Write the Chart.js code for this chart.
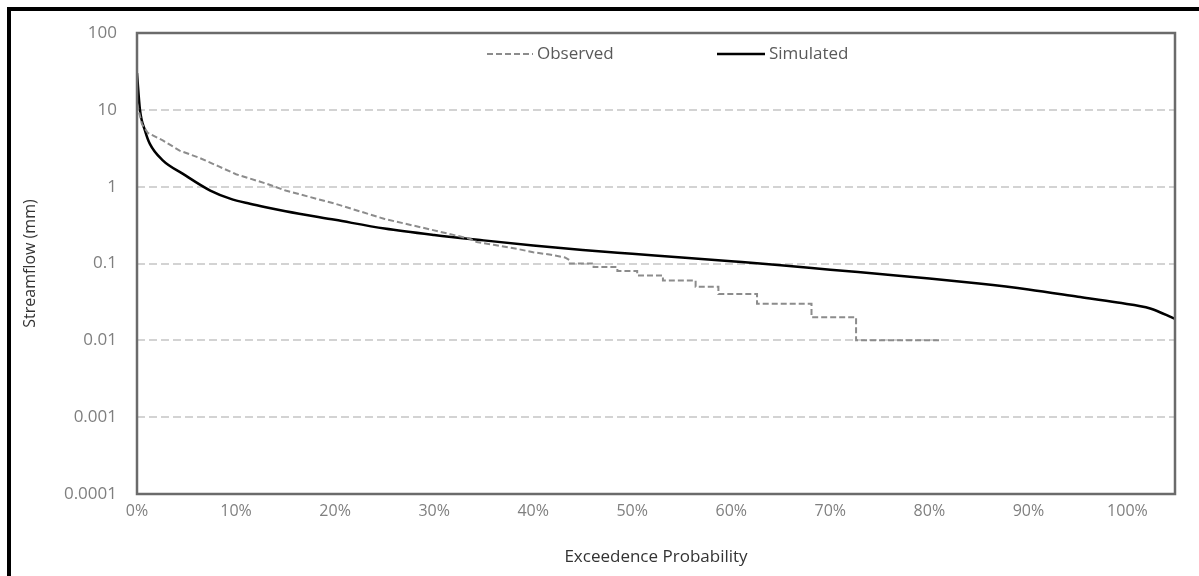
<!DOCTYPE html>
<html>
<head>
<meta charset="utf-8">
<script src="https://cdn.jsdelivr.net/npm/chart.js@4/dist/chart.umd.min.js"></script>
<style>
  body { margin: 0; background: #fff; }
  #wrap { position: relative; width: 1199px; height: 576px; overflow: hidden; }
  #frame { position: absolute; left: 7px; top: 7px; width: 1220px; height: 620px;
           border: 4px solid #000; pointer-events: none; }
</style>
</head>
<body>
<div id="wrap">
  <canvas id="myChart" width="1199" height="576"></canvas>
  <div id="frame"></div>
</div>
<script>
'use strict';

// exceedence probability (%) and streamflow (mm)
var simulatedX = [0, 0.3, 0.8, 1.3, 2.6, 4.6, 7.4, 9.4, 11.4, 13, 15, 20, 25, 30, 35, 40, 45, 50, 55, 60, 65, 70, 75, 80, 85, 90, 95, 99, 102.3, 104.8];
var simulatedY = [30, 10, 5.4, 3.6, 2.2, 1.48, 0.89, 0.70, 0.60, 0.54, 0.48, 0.37, 0.285, 0.235, 0.2, 0.172, 0.15, 0.134, 0.12, 0.107, 0.095, 0.083, 0.073, 0.064, 0.055, 0.046, 0.037, 0.031, 0.026, 0.019];

var observedX = [0, 0.5, 1.1, 2.6, 4.3, 6.2, 8.2, 10, 13.1, 15, 20, 25, 30, 33.6, 34.3, 36, 38.4, 40, 41.8, 43.2, 43.7, 43.7, 46.1, 46.1, 48.5, 48.5, 50.5, 50.5, 53.1, 53.1, 56.4, 56.4, 58.7, 58.7, 62.6, 62.6, 68.1, 68.1, 72.6, 72.6, 81.1];
var observedY = [12, 6.5, 5.0, 4.0, 2.95, 2.4, 1.85, 1.45, 1.09, 0.89, 0.6, 0.38, 0.27, 0.21, 0.19, 0.175, 0.155, 0.14, 0.13, 0.12, 0.11, 0.10, 0.10, 0.09, 0.09, 0.08, 0.08, 0.07, 0.07, 0.06, 0.06, 0.05, 0.05, 0.04, 0.04, 0.03, 0.03, 0.02, 0.02, 0.01, 0.01];

var yTicks = [0.0001, 0.001, 0.01, 0.1, 1, 10, 100];
var yTickLabels = ['0.0001', '0.001', '0.01', '0.1', '1', '10', '100'];
var xMax = 104.8;

function toPoints(xs, ys) {
    return xs.map(function (x, i) { return { x: x, y: ys[i] }; });
}

var plotBox = {
    id: 'plotBox',
    afterDatasetsDraw: function (chart) {
        var a = chart.chartArea, ctx = chart.ctx;
        ctx.save();
        ctx.strokeStyle = '#6b6b6b';
        ctx.lineWidth = 2.5;
        ctx.strokeRect(a.left, a.top, a.right - a.left, a.bottom - a.top);
        ctx.restore();
    }
};

var innerLegend = {
    id: 'innerLegend',
    afterDraw: function (chart) {
        var a = chart.chartArea, ctx = chart.ctx;
        var y = a.top + 21;
        var items = [
            { x: a.left + 350, len: 46, ds: chart.data.datasets[0] },
            { x: a.left + 580, len: 48, ds: chart.data.datasets[1] }
        ];
        ctx.save();
        ctx.font = '17px "Open Sans"';
        ctx.textBaseline = 'middle';
        items.forEach(function (it) {
            ctx.strokeStyle = it.ds.borderColor;
            ctx.lineWidth = it.ds.borderWidth;
            ctx.setLineDash(it.ds.borderDash || []);
            ctx.beginPath();
            ctx.moveTo(it.x, y);
            ctx.lineTo(it.x + it.len, y);
            ctx.stroke();
            ctx.setLineDash([]);
            ctx.fillStyle = '#595959';
            ctx.fillText(it.ds.label, it.x + it.len + 4, y);
        });
        ctx.restore();
    }
};

var ctx = document.getElementById('myChart').getContext('2d');
var myChart = new Chart(ctx, {
    type: 'line',
    data: {
        datasets: [{
            label: 'Observed',
            data: toPoints(observedX, observedY),
            borderColor: '#8c8c8c',
            borderWidth: 2,
            borderDash: [6, 3],
            pointRadius: 0,
            tension: 0
        }, {
            label: 'Simulated',
            data: toPoints(simulatedX, simulatedY),
            borderColor: '#000000',
            borderWidth: 2.5,
            pointRadius: 0,
            cubicInterpolationMode: 'monotone'
        }]
    },
    options: {
        responsive: false,
        animation: false,
        layout: { padding: { left: 0, top: 33, right: 24, bottom: 9 } },
        plugins: {
            legend: { display: false },
            tooltip: { enabled: false }
        },
        scales: {
            x: {
                type: 'linear',
                min: 0,
                max: xMax,
                afterFit: function (s) { s.height = 82 - 9; },
                grid: { display: false, drawTicks: false },
                border: { display: false },
                ticks: {
                    stepSize: 10,
                    includeBounds: false,
                    padding: 8,
                    color: '#7f7f7f',
                    font: { family: 'Open Sans', size: 16 },
                    callback: function (v) { return v + '%'; }
                },
                title: {
                    display: true,
                    text: 'Exceedence Probability',
                    color: '#333333',
                    font: { family: 'Open Sans', size: 17 },
                    padding: { top: 0, bottom: 0 }
                }
            },
            y: {
                type: 'logarithmic',
                min: 0.0001,
                max: 100,
                afterFit: function (s) { s.width = 137; },
                afterBuildTicks: function (s) {
                    s.ticks = yTicks.map(function (v) { return { value: v }; });
                },
                grid: {
                    color: '#d3d3d3',
                    lineWidth: 2,
                    drawTicks: false
                },
                border: { display: false, dash: [8, 4] },
                ticks: {
                    padding: 20,
                    color: '#7f7f7f',
                    font: { family: 'Open Sans', size: 17 },
                    callback: function (v) {
                        var i = yTicks.indexOf(v);
                        return i >= 0 ? yTickLabels[i] : '';
                    }
                },
                title: {
                    display: true,
                    text: 'Streamflow (mm)',
                    color: '#333333',
                    font: { family: 'Open Sans', size: 16 },
                    padding: { top: 21, bottom: 0 }
                }
            }
        }
    },
    plugins: [plotBox, innerLegend]
});
</script>
</body>
</html>
